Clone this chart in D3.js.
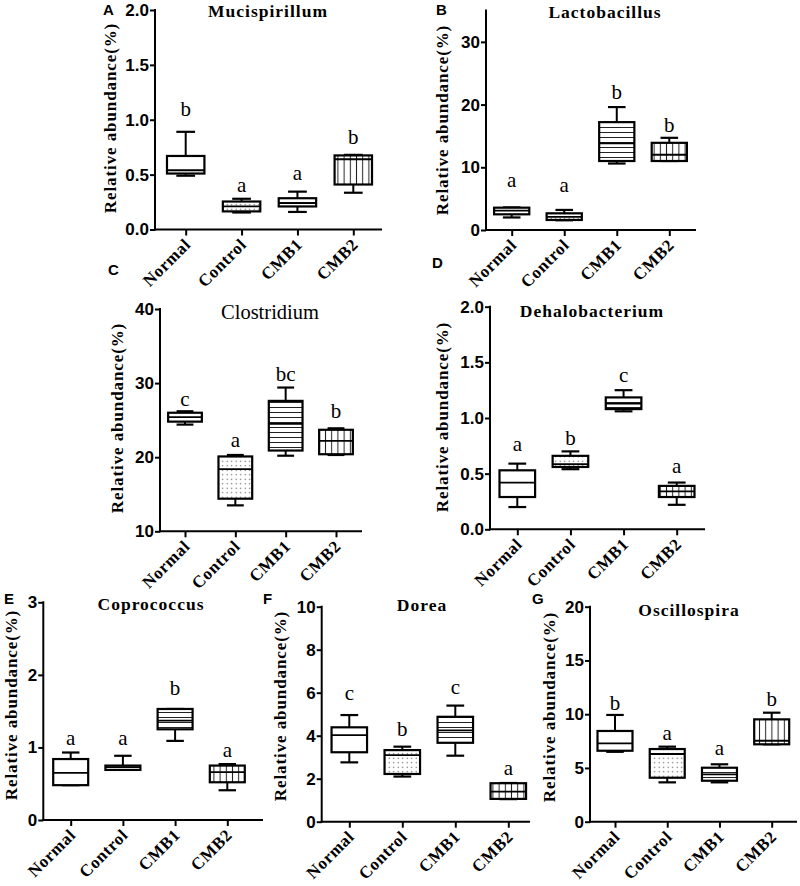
<!DOCTYPE html>
<html><head><meta charset="utf-8">
<script src="https://cdn.jsdelivr.net/npm/d3@7/dist/d3.min.js"></script>
<style>body{margin:0;background:#fff}</style>
</head><body><svg id="chart" width="800" height="886"></svg>
<script>
// ---------------- DATA ----------------
const categories = ["Normal", "Control", "CMB1", "CMB2"];
const panelLetters = ["A", "B", "C", "D", "E", "F", "G"];
const titles = ["Mucispirillum", "Lactobacillus", "Clostridium", "Dehalobacterium", "Coprococcus", "Dorea", "Oscillospira"];
const yAxisLabel = "Relative abundance(%)";

// box stats per category: [min, q1, median, q3, max]
const statsMucispirillum   = [[0.49,0.51,0.54,0.67,0.89],[0.155,0.165,0.21,0.255,0.28],[0.16,0.21,0.24,0.285,0.345],[0.335,0.41,0.64,0.675,0.68]];
const statsLactobacillus   = [[2.0,2.5,3.1,3.56,3.6],[1.55,1.6,2.1,2.66,3.2],[10.6,11.0,13.8,17.2,19.6],[11.0,11.0,12.0,13.9,14.7]];
const statsClostridium     = [[24.4,24.8,25.4,26.0,26.2],[13.5,14.4,18.4,20.1,20.3],[20.2,20.9,24.5,27.6,29.4],[20.3,20.4,22.2,23.7,23.9]];
const statsDehalobacterium = [[0.20,0.29,0.42,0.53,0.59],[0.54,0.56,0.585,0.66,0.70],[1.06,1.08,1.13,1.185,1.25],[0.22,0.29,0.34,0.39,0.42]];
const statsCoprococcus     = [[0.48,0.48,0.65,0.84,0.93],[0.69,0.69,0.73,0.75,0.885],[1.09,1.25,1.37,1.53,1.53],[0.41,0.52,0.66,0.75,0.77]];
const statsDorea           = [[2.76,3.23,4.03,4.39,4.96],[2.1,2.22,3.1,3.33,3.49],[3.07,3.67,4.25,4.88,5.4],[1.05,1.06,1.4,1.79,1.8]];
const statsOscillospira    = [[6.5,6.6,7.29,8.44,9.93],[3.66,4.09,6.3,6.76,6.98],[3.66,3.81,4.4,5.02,5.34],[7.2,7.2,7.53,9.52,10.14]];

// significance letters and their heights (data units)
const sigMucispirillum = ["b","a","a","b"],    sigYMucispirillum = [1.03,0.34,0.45,0.78];
const sigLactobacillus = ["a","a","b","b"],    sigYLactobacillus = [6.8,6.0,20.9,15.6];
const sigClostridium = ["c","a","bc","b"],     sigYClostridium = [26.9,21.4,30.3,25.25];
const sigDehalobacterium = ["a","b","c","a"],  sigYDehalobacterium = [0.70,0.76,1.325,0.51];
const sigCoprococcus = ["a","a","b","a"],      sigYCoprococcus = [1.03,1.03,1.72,0.87];
const sigDorea = ["c","b","c","a"],            sigYDorea = [5.66,4.0,5.94,2.17];
const sigOscillospira = ["b","a","a","b"],     sigYOscillospira = [10.4,7.6,6.2,10.77];

// y axes
const yDomains = [[0,2],[0,35],[10,40],[0,2],[0,3],[0,10],[0,20]];
const yTicks = [[0,0.5,1,1.5,2],[0,10,20,30],[10,20,30,40],[0,0.5,1,1.5,2],[0,1,2,3],[0,2,4,6,8,10],[0,5,10,15,20]];
const yTickFormats = [".1f","d","d",".1f","d","d","d"];

const allStats = [statsMucispirillum, statsLactobacillus, statsClostridium, statsDehalobacterium, statsCoprococcus, statsDorea, statsOscillospira];
const allSig = [sigMucispirillum, sigLactobacillus, sigClostridium, sigDehalobacterium, sigCoprococcus, sigDorea, sigOscillospira];
const allSigY = [sigYMucispirillum, sigYLactobacillus, sigYClostridium, sigYDehalobacterium, sigYCoprococcus, sigYDorea, sigYOscillospira];

// ---------------- LAYOUT ----------------
const layout = [
  {ax:155, axEnd:382, c0:185.7, c1:353.3, yb:229.5, yt:10,    ylx:110,   yly:118, tx:268, ty:17.3, tBold:true,  lx:103, ly:15},
  {ax:486, axEnd:696, c0:511.7, c1:669.3, yb:230,   yt:10.5,  ylx:442.5, yly:120, tx:605, ty:18.3, tBold:true,  lx:436, ly:15},
  {ax:160, axEnd:362, c0:185,   c1:336,   yb:531.3, yt:309,   ylx:117.5, yly:418, tx:270, ty:319,  tBold:false, lx:108, ly:275},
  {ax:490, axEnd:705, c0:517.3, c1:676.7, yb:529.3, yt:306.7, ylx:442.5, yly:417, tx:592, ty:317,  tBold:true,  lx:432, ly:268},
  {ax:43.3,axEnd:263, c0:70.7,  c1:227.3, yb:820,   yt:602.3, ylx:11,    yly:705, tx:151, ty:610,  tBold:true,  lx:4,   ly:604},
  {ax:321.7,axEnd:530,c0:349.3, c1:508.3, yb:821.7, yt:606.7, ylx:280,   yly:706, tx:422, ty:611,  tBold:true,  lx:263, ly:604},
  {ax:590, axEnd:797, c0:615,   c1:771.7, yb:821.7, yt:606.7, ylx:549.5, yly:707, tx:689, ty:616,  tBold:true,  lx:532, ly:604}
];

const SERIF = "'Liberation Serif','Times New Roman',serif";
const SANS = "'Liberation Sans',Arial,sans-serif";

const svg = d3.select("#chart");
const defs = svg.append("defs");

// patterns
const pDots = defs.append("pattern").attr("id","dots").attr("patternUnits","userSpaceOnUse").attr("width",4.5).attr("height",4.5);
pDots.append("rect").attr("width",4.5).attr("height",4.5).attr("fill","#fff");
pDots.append("circle").attr("cx",2.2).attr("cy",2.2).attr("r",0.65).attr("fill","#555");
const pH = defs.append("pattern").attr("id","hl").attr("patternUnits","userSpaceOnUse").attr("width",8).attr("height",5);
pH.append("rect").attr("width",8).attr("height",5).attr("fill","#fff");
pH.append("line").attr("x1",0).attr("x2",8).attr("y1",2.5).attr("y2",2.5).attr("stroke","#222").attr("stroke-width",1);
const pV = defs.append("pattern").attr("id","vl").attr("patternUnits","userSpaceOnUse").attr("width",6.2).attr("height",8);
pV.append("rect").attr("width",6.2).attr("height",8).attr("fill","#fff");
pV.append("line").attr("x1",3.1).attr("x2",3.1).attr("y1",0).attr("y2",8).attr("stroke","#222").attr("stroke-width",1);

const fills = ["#fff","url(#dots)","url(#hl)","url(#vl)"];

layout.forEach((L, i) => {
  const g = svg.append("g");
  const x = d3.scalePoint().domain(categories).range([L.c0, L.c1]);
  const y = d3.scaleLinear().domain(yDomains[i]).range([L.yb, L.yt]);
  const step = x.step();
  const bw = step * 0.67;

  // y axis
  const yAxis = d3.axisLeft(y).tickValues(yTicks[i]).tickFormat(d3.format(yTickFormats[i])).tickSize(5).tickSizeOuter(0).tickPadding(1);
  const gy = g.append("g").attr("transform", `translate(${L.ax},0)`).call(yAxis);
  gy.select(".domain").remove();
  gy.selectAll(".tick line").attr("stroke","#000").attr("stroke-width",2);
  gy.selectAll(".tick text").attr("font-family",SANS).attr("font-weight","bold").attr("font-size",17).attr("fill","#000");
  g.append("line").attr("x1",L.ax).attr("x2",L.ax).attr("y1",L.yt-1).attr("y2",L.yb+1).attr("stroke","#000").attr("stroke-width",2);

  // x axis
  const xAxis = d3.axisBottom(x).tickSize(6).tickSizeOuter(0).tickFormat("");
  const gx = g.append("g").attr("transform", `translate(0,${L.yb})`).call(xAxis);
  gx.select(".domain").remove();
  gx.selectAll(".tick line").attr("stroke","#000").attr("stroke-width",2);
  g.append("line").attr("x1",L.ax-1).attr("x2",L.axEnd).attr("y1",L.yb).attr("y2",L.yb).attr("stroke","#000").attr("stroke-width",2);

  // x labels
  g.selectAll("text.xl").data(categories).enter().append("text").attr("class","xl")
    .attr("transform", d => `translate(${x(d)+6},${L.yb+16}) rotate(-45)`)
    .attr("text-anchor","end")
    .attr("font-family",SERIF).attr("font-weight","bold").attr("font-size",17).attr("letter-spacing",0.6)
    .text(d => d);

  // boxes
  const stats = allStats[i];
  categories.forEach((c, j) => {
    const [mn, q1, md, q3, mx] = stats[j];
    const cx = x(c);
    const bg = g.append("g");
    bg.append("line").attr("x1",cx).attr("x2",cx).attr("y1",y(q3)).attr("y2",y(mx)).attr("stroke","#000").attr("stroke-width",2);
    bg.append("line").attr("x1",cx).attr("x2",cx).attr("y1",y(q1)).attr("y2",y(mn)).attr("stroke","#000").attr("stroke-width",2);
    bg.append("line").attr("x1",cx-bw/4).attr("x2",cx+bw/4).attr("y1",y(mx)).attr("y2",y(mx)).attr("stroke","#000").attr("stroke-width",2.2);
    bg.append("line").attr("x1",cx-bw/4).attr("x2",cx+bw/4).attr("y1",y(mn)).attr("y2",y(mn)).attr("stroke","#000").attr("stroke-width",2.2);
    bg.append("rect").attr("x",cx-bw/2).attr("y",y(q3)).attr("width",bw).attr("height",Math.max(1,y(q1)-y(q3)))
      .attr("fill",fills[j]).attr("stroke","#000").attr("stroke-width",2.2);
    bg.append("line").attr("x1",cx-bw/2).attr("x2",cx+bw/2).attr("y1",y(md)).attr("y2",y(md)).attr("stroke","#000").attr("stroke-width",1.8);
    g.append("text").attr("x",cx).attr("y",y(allSigY[i][j])).attr("text-anchor","middle")
      .attr("font-family",SERIF).attr("font-size",21).attr("fill","#000").text(allSig[i][j]);
  });

  // title
  g.append("text").attr("x",L.tx).attr("y",L.ty).attr("text-anchor","middle")
    .attr("font-family",SERIF).attr("font-weight",L.tBold?"bold":"normal")
    .attr("font-size",L.tBold?17.5:20.5).attr("letter-spacing",L.tBold?1:0).text(titles[i]);

  // y label
  g.append("text").attr("transform",`translate(${L.ylx},${L.yly}) rotate(-90)`).attr("text-anchor","middle").attr("dy","0.35em")
    .attr("font-family",SERIF).attr("font-weight","bold").attr("font-size",17).attr("letter-spacing",0.9).text(yAxisLabel);

  // panel letter
  g.append("text").attr("x",L.lx).attr("y",L.ly).attr("font-family",SANS).attr("font-weight","bold").attr("font-size",15).text(panelLetters[i]);
});
</script></body></html>
